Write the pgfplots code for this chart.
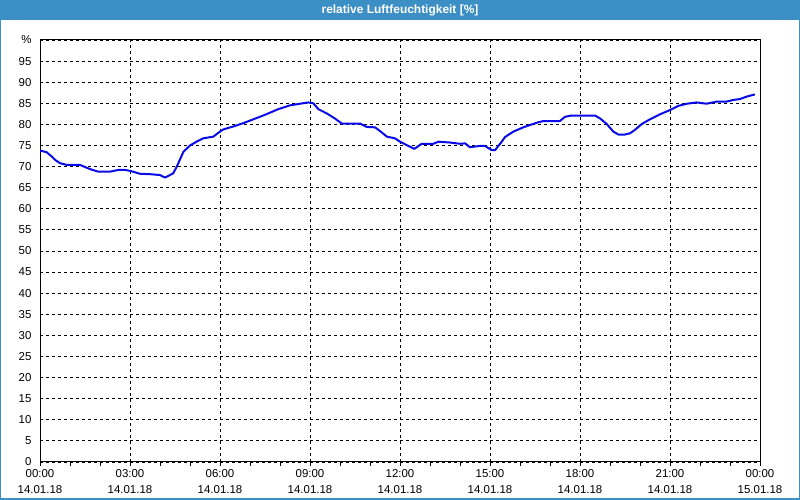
\documentclass[border=0pt]{standalone}
\usepackage{pgfplots}
\pgfplotsset{compat=1.18}
\usepackage{fontspec}
\setmainfont{Liberation Sans}
\definecolor{titleblue}{HTML}{3C8FC5}
\definecolor{curveblue}{HTML}{0A0AE8}

\pgfplotstableread{
h v
0.00 73.8
0.22 73.4
0.39 72.4
0.50 71.6
0.67 70.8
0.89 70.4
1.33 70.4
1.67 69.4
1.94 68.8
2.33 68.8
2.61 69.2
2.83 69.2
3.00 69.0
3.33 68.3
3.67 68.2
4.00 68.0
4.17 67.4
4.44 68.4
4.56 70.0
4.78 73.5
5.00 75.0
5.22 75.9
5.44 76.7
5.78 77.1
6.00 78.3
6.11 78.8
6.44 79.5
6.78 80.3
7.00 80.9
7.44 82.1
7.94 83.6
8.33 84.5
8.67 84.9
8.94 85.2
9.11 85.0
9.28 83.6
9.56 82.6
9.83 81.4
10.06 80.2
10.67 80.2
10.89 79.4
11.17 79.3
11.39 78.1
11.56 77.1
11.83 76.7
12.00 75.9
12.22 75.1
12.48 74.2
12.72 75.4
13.11 75.4
13.28 75.9
13.67 75.7
14.00 75.4
14.17 75.5
14.33 74.6
14.67 74.9
14.83 74.9
15.06 73.9
15.17 73.9
15.39 75.9
15.50 77.0
15.78 78.3
16.11 79.3
16.56 80.4
16.78 80.8
17.33 80.8
17.50 81.8
17.72 82.1
18.50 82.1
18.67 81.4
18.89 80.1
19.11 78.3
19.28 77.6
19.50 77.6
19.67 77.9
19.83 78.7
20.06 80.1
20.33 81.2
20.67 82.4
21.00 83.4
21.28 84.4
21.56 84.9
21.89 85.2
22.22 84.9
22.56 85.4
22.89 85.4
23.11 85.8
23.33 86.0
23.56 86.6
23.83 87.1
}\humidity

\begin{document}
\begin{tikzpicture}[x=1bp,y=1bp]
\useasboundingbox (0,0) rectangle (800,500);
\fill[white] (0,0) rectangle (800,500);
\fill[titleblue] (0,480) rectangle (800,500);
\draw[titleblue, line width=1.5bp] (0.75,0.75) rectangle (799.25,499.25);
\node[white, font=\fontsize{12}{14}\selectfont\bfseries] at (400,490) {relative Luftfeuchtigkeit [\%]};

\begin{axis}[
    at={(40bp,38bp)}, anchor=south west,
    scale only axis,
    width=720bp, height=422bp,
    xmin=0, xmax=24,
    ymin=0, ymax=100,
    xtick={0,3,...,24},
    xticklabels={{00:00\\14.01.18},{03:00\\14.01.18},{06:00\\14.01.18},{09:00\\14.01.18},{12:00\\14.01.18},{15:00\\14.01.18},{18:00\\14.01.18},{21:00\\14.01.18},{00:00\\15.01.18}},
    minor x tick num=2,
    ytick={0,5,...,100},
    yticklabels={0,5,10,15,20,25,30,35,40,45,50,55,60,65,70,75,80,85,90,95,\%},
    tick pos=left,
    tick align=outside,
    major tick length=4bp,
    minor tick length=4bp,
    xtick style={black, line width=0.8bp},
    ytick style={draw=none},
    axis line style={black, line width=1bp},
    grid=major,
    major grid style={black, dash pattern=on 3bp off 3bp, line width=0.8bp},
    tick label style={font=\fontsize{11.5}{16}\selectfont},
    xticklabel style={align=center, yshift=0bp},
    yticklabel style={xshift=-1bp},
]
\addplot[curveblue, line width=2bp, line join=round] table[x=h, y=v] {\humidity};
\end{axis}
\end{tikzpicture}
\end{document}
